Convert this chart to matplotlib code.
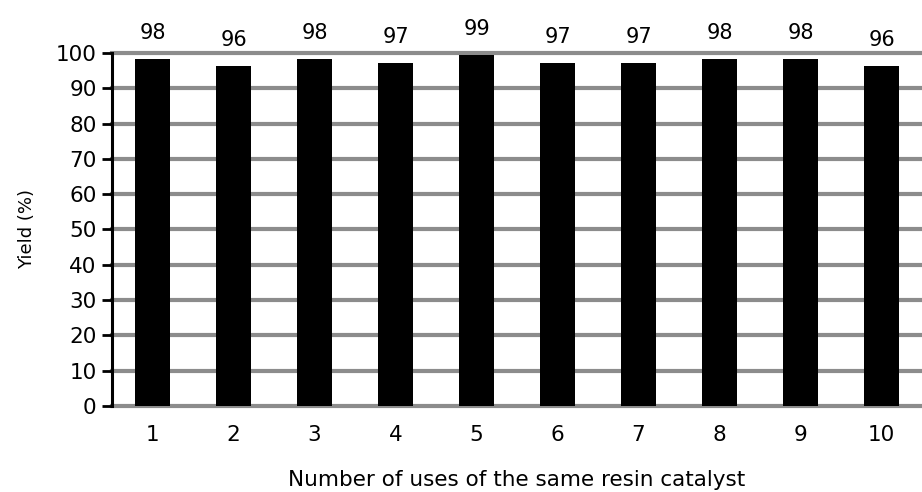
import matplotlib
matplotlib.use("Agg")
import matplotlib.pyplot as plt

uses = ["1", "2", "3", "4", "5", "6", "7", "8", "9", "10"]
yields = [98.4, 96.3, 98.4, 97.3, 99.4, 97.3, 97.3, 98.4, 98.4, 96.3]
yticks = list(range(0, 101, 10))

plt.rcParams["font.family"] = "DejaVu Sans"

fig = plt.figure(figsize=(9.22, 4.92), dpi=100)
ax = fig.add_axes([0.1215, 0.1748, 0.8785, 0.7175])

x = range(len(uses))
ax.bar(x, yields, width=0.44, color="black", zorder=3)
for xi, v in zip(x, yields):
    ax.text(xi, v + 4.5, f"{v:.0f}", ha="center", va="bottom", fontsize=15)

ax.set_xlim(-0.5, len(uses) - 0.5)
ax.set_ylim(0, 100)
ax.set_yticks(yticks)
ax.set_xticks(list(x))
ax.set_xticklabels(uses)
ax.tick_params(axis="y", labelsize=15.5, length=7, width=2, direction="out", pad=4)
ax.tick_params(axis="x", labelsize=15.5, length=0, pad=14)

ax.yaxis.grid(True, color="#8c8c8c", linewidth=3, zorder=0)
for gl in ax.get_ygridlines():
    gl.set_clip_on(False)
ax.set_axisbelow(True)

for s in ["top", "right", "bottom"]:
    ax.spines[s].set_visible(False)
ax.spines["left"].set_linewidth(2.2)
ax.spines["left"].set_zorder(4)

ax.set_ylabel("Yield (%)", fontsize=13, labelpad=14)
ax.set_xlabel("Number of uses of the same resin catalyst", fontsize=15.5, labelpad=18)

fig.savefig("out.png", dpi=100)
